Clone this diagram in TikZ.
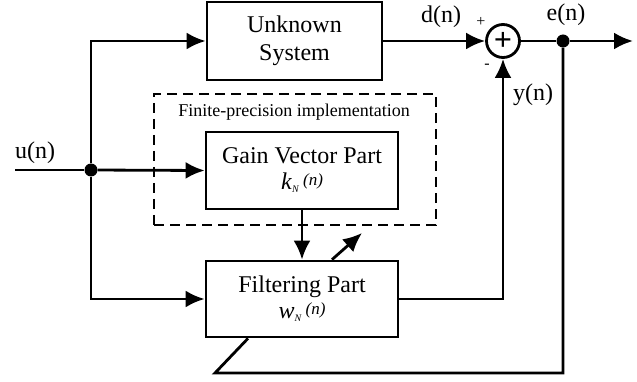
\documentclass[tikz,border=0pt]{standalone}
\usepackage{amsmath}
\usepackage{fontspec}
\setmainfont{Liberation Serif}
\usetikzlibrary{positioning,arrows.meta,calc}

\newcommand{\vecsym}[1]{\textit{#1}\raisebox{-3pt}{\fontsize{10}{10}\selectfont\textit{N}}\,\raisebox{4pt}{\fontsize{17}{17}\selectfont\textit{(n)}}}

\begin{document}
\begin{tikzpicture}[
x=1pt,
y=-1pt,
block/.style={
  draw,
  rectangle,
  line width=2.8pt,
  align=center,
  font=\fontsize{24}{28}\selectfont,
  inner sep=0pt
  },
dashbox/.style={
  draw,
  rectangle,
  line width=2.6pt,
  dash pattern=on 10pt off 6pt
  },
sumnode/.style={
  draw,
  circle,
  line width=2.8pt,
  minimum size=33pt,
  inner sep=0pt,
  font=\fontsize{32}{32}\selectfont\bfseries
  },
dot/.style={
  fill,
  circle,
  minimum size=13pt,
  inner sep=0pt
  },
lbl/.style={
  inner sep=0pt,
  font=\fontsize{24}{28}\selectfont
  },
sign/.style={
  inner sep=0pt,
  font=\fontsize{16}{16}\selectfont
  },
sig/.style={
  line width=2.8pt
  },
>={Latex[length=19pt,width=17pt]}
]
\useasboundingbox (0,0) rectangle (637,382);
% blocks
\node[block, minimum width=175pt, minimum height=78pt] (unknown) at (294.5,41) {Unknown\\System};
\node[dashbox, minimum width=282pt, minimum height=131pt] (finite) at (295,159.5) {};
\node[inner sep=0pt, font=\fontsize{18}{20}\selectfont] (finitelbl) at (294,112) {Finite-precision implementation};
\node[block, minimum width=192pt, minimum height=77pt] (gain) at (302,170.5)
  {Gain Vector Part\\[-2pt] \vecsym{k}};
\node[block, minimum width=192pt, minimum height=76pt] (filter) at (302,299)
  {Filtering Part\\[-2pt] \vecsym{w}};
\node[sumnode] (sum) at (503,41) {+};
% branch points
\node[dot] (split) at (91,170) {};
\node[dot] (tap) at (563,41) {};
\coordinate (in) at (15,170);
\coordinate (out) at (633,41);
\coordinate (adapt) at (362,233);
\coordinate (fbk) at (215,373);
% signals
\draw[sig] (in) -- (split);
\draw[sig,->] (split) -- (gain.west);
\draw[sig,->] (split) |- (unknown.west);
\draw[sig,->] (split) |- (filter.west);
\draw[sig,->] (unknown.east) -- (sum.west);
\draw[sig] (sum.east) -- (tap);
\draw[sig,->] (tap) -- (out);
\draw[sig,->] (filter.east) -| (sum.south);
\draw[sig,->] (gain.south) -- (filter.north);
\draw[sig,->] ([xshift=30pt]filter.north) -- (adapt);
\draw[sig] (tap) |- (fbk) -- ([xshift=-54pt]filter.south);
% labels
\node[lbl] (ulbl) at (35,153) {u(n)};
\node[lbl] (dlbl) at (441,17) {d(n)};
\node[lbl] (elbl) at (566,15) {e(n)};
\node[lbl] (ylbl) at (533,95) {y(n)};
\node[sign] (plus) at (481,22) {+};
\node[sign] (minus) at (487,66) {-};
\end{tikzpicture}
\end{document}
